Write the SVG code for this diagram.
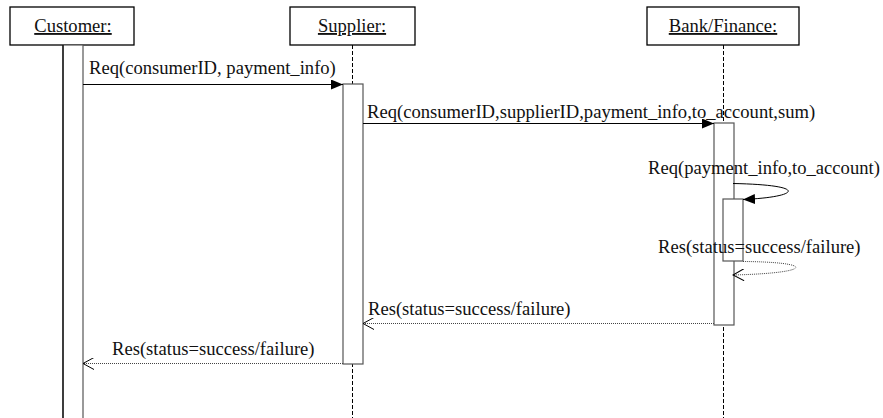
<svg xmlns="http://www.w3.org/2000/svg" width="883" height="418" viewBox="0 0 883 418">
  <style>
    text { font-family: "Liberation Serif", "Times New Roman", serif; font-size: 18.6px; fill: #111; }
    .head { fill: #fff; stroke: #000; stroke-width: 1.3; }
    .life { stroke: #000; stroke-width: 1; stroke-dasharray: 4,2; fill: none; }
    .act { fill: #fff; stroke: #555; stroke-width: 1.2; }
    .msg { stroke: #000; stroke-width: 1; fill: none; }
    .ret { stroke: #444; stroke-width: 1; stroke-dasharray: 1,1; fill: none; }
  </style>
  <defs>
    <marker id="solid" markerWidth="12" markerHeight="10" refX="12" refY="5" orient="auto" markerUnits="userSpaceOnUse">
      <path d="M0,0 L12,5 L0,10 Z" fill="#000"/>
    </marker>
    <marker id="open" markerWidth="13" markerHeight="12" refX="12" refY="6" orient="auto" markerUnits="userSpaceOnUse">
      <path d="M1,0 L12,6 L1,12" fill="none" stroke="#000" stroke-width="1"/>
    </marker>
  </defs>

  <rect width="883" height="418" fill="#fff"/>

  <!-- Customer -->
  <g id="customer">
    <rect class="head" x="10" y="7" width="124" height="38"/>
    <text x="73" y="32" text-anchor="middle" text-decoration="underline">Customer:</text>
    <rect class="act" x="63" y="45" width="20" height="380"/>
    <line x1="63" y1="45" x2="63" y2="418" stroke="#000" stroke-width="1.2"/>
  </g>

  <!-- Supplier -->
  <g id="supplier">
    <rect class="head" x="290" y="7" width="125" height="38"/>
    <text x="352" y="32" text-anchor="middle" text-decoration="underline">Supplier:</text>
    <line class="life" x1="352.5" y1="45" x2="352.5" y2="418"/>
    <rect class="act" x="343" y="84" width="20" height="280"/>
  </g>

  <!-- Bank / Finance -->
  <g id="bank">
    <rect class="head" x="647" y="7" width="152" height="38"/>
    <text x="723" y="32" text-anchor="middle" text-decoration="underline">Bank/Finance:</text>
    <line class="life" x1="723.5" y1="45" x2="723.5" y2="418"/>
    <rect class="act" x="714" y="123" width="20" height="202"/>
    <rect class="act" x="723" y="199" width="20" height="62"/>
  </g>

  <!-- Messages -->
  <g id="connectors">
    <line class="msg" x1="83" y1="84.5" x2="343" y2="84.5" marker-end="url(#solid)"/>
    <text x="89" y="74">Req(consumerID, payment_info)</text>

    <line class="msg" x1="363" y1="123.5" x2="714" y2="123.5" marker-end="url(#solid)"/>
    <text x="367" y="118">Req(consumerID,supplierID,payment_info,to_account,sum)</text>

    <path class="msg" d="M733,183.5 C810,185 800,197 743,199.5" marker-end="url(#solid)"/>
    <text x="648" y="174">Req(payment_info,to_account)</text>

    <path class="ret" d="M743,261.5 C815,262 815,273 733,275" marker-end="url(#open)"/>
    <text x="658" y="253">Res(status=success/failure)</text>

    <line class="ret" x1="714" y1="323.5" x2="363" y2="323.5" marker-end="url(#open)"/>
    <text x="368" y="315">Res(status=success/failure)</text>

    <line class="ret" x1="343" y1="363.5" x2="83" y2="363.5" marker-end="url(#open)"/>
    <text x="112" y="355">Res(status=success/failure)</text>
  </g>
</svg>
